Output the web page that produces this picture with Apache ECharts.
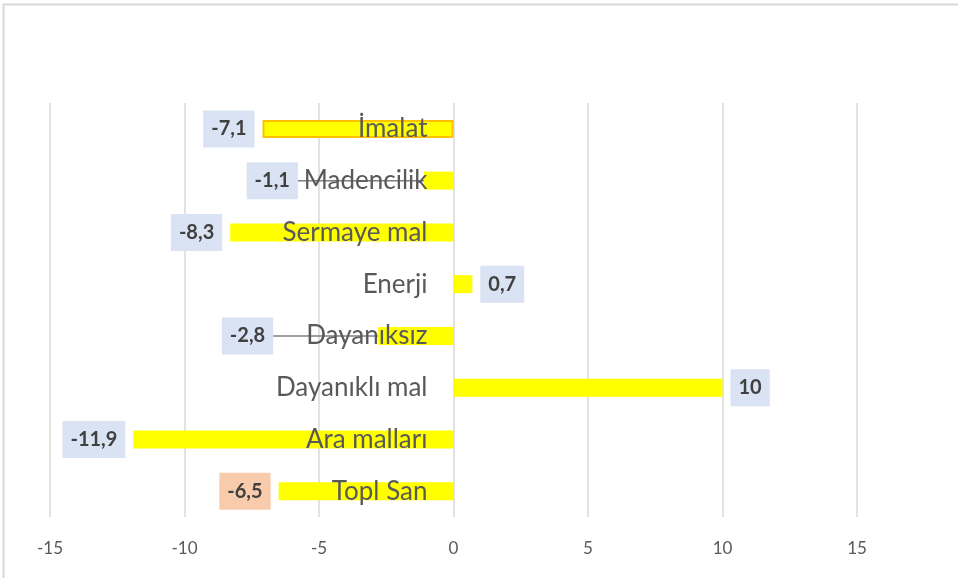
<!DOCTYPE html>
<html>
<head>
<meta charset="utf-8">
<script src="https://cdn.jsdelivr.net/npm/echarts@6/dist/echarts.min.js"></script>
<style>
  html, body { margin: 0; padding: 0; background: #ffffff; }
  #chart { width: 958px; height: 578px; }
</style>
</head>
<body>
<div id="chart"></div>
<script>
// categories top to bottom
const categories = ['İmalat', 'Madencilik', 'Sermaye mal', 'Enerji', 'Dayanıksız', 'Dayanıklı mal', 'Ara malları', 'Topl San'];
const values = [-7.1, -1.1, -8.3, 0.7, -2.8, 10, -11.9, -6.5];
// labels that Excel pulled away from the bar (with a leader line)
const labelShift = { 1: -118, 4: -97 };

const chart = echarts.init(document.getElementById('chart'));
const font = 'Lato, "Open Sans", sans-serif';

const gridLeft = 50;
const gridWidth = 807;

const seriesData = values.map((v, i) => {
  const item = {
    value: v,
    label: { position: v < 0 ? 'left' : 'right' },
    labelLine: { show: labelShift[i] !== undefined }
  };
  if (i === 0) {
    item.itemStyle = { color: '#ffff00', borderColor: '#ffc000', borderWidth: 2 };
  }
  if (i === values.length - 1) {
    item.label.backgroundColor = '#f8cbad';
  }
  return item;
});

const option = {
  backgroundColor: '#ffffff',
  textStyle: { fontFamily: font },
  graphic: [{
    type: 'rect',
    shape: { x: 3.5, y: 4.5, width: 1000, height: 600 },
    style: { fill: 'none', stroke: '#d9d9d9', lineWidth: 2 },
    silent: true
  }],
  grid: { left: gridLeft, width: gridWidth, top: 103, bottom: 61, outerBoundsMode: 'none', containLabel: false },
  xAxis: {
    type: 'value',
    min: -15,
    max: 15,
    interval: 5,
    axisLine: { show: false },
    axisTick: { show: false },
    splitLine: { lineStyle: { color: '#d9d9d9', width: 1.5 } },
    axisLabel: { color: '#595959', fontSize: 17, margin: 23, fontFamily: font }
  },
  yAxis: {
    type: 'category',
    inverse: true,
    data: categories,
    z: 10,
    position: 'left',
    // the category axis sits on the zero line, as in the source chart
    offset: -gridWidth / 2,
    axisLine: { show: false },
    axisTick: { show: false },
    splitLine: { show: false },
    axisLabel: { color: '#595959', fontSize: 26, margin: 26, fontFamily: font }
  },
  series: [{
    type: 'bar',
    data: seriesData,
    barWidth: 18,
    itemStyle: { color: '#ffff00' },
    label: {
      show: true,
      distance: 8,
      backgroundColor: '#dae3f3',
      padding: [9, 8, 8, 8],
      color: '#404040',
      fontWeight: 'bold',
      fontSize: 20,
      fontFamily: font,
      formatter: p => String(p.value).replace('.', ',')
    },
    labelLine: { lineStyle: { color: '#7f7f7f', width: 1.5 } },
    labelLayout: params => (labelShift[params.dataIndex] !== undefined ? { dx: labelShift[params.dataIndex] } : {})
  }]
};

chart.setOption(option);
</script>
</body>
</html>
